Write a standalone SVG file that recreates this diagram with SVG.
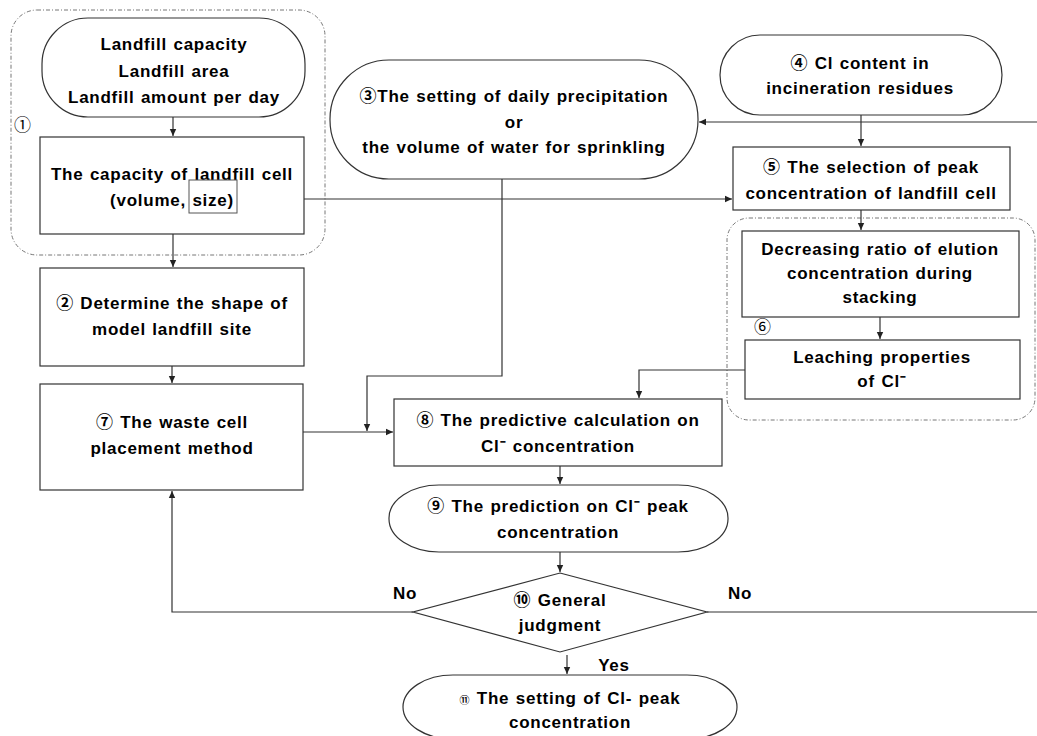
<svg xmlns="http://www.w3.org/2000/svg" width="1037" height="736" viewBox="0 0 1037 736">
<style>
.t{font-family:"Liberation Sans","Noto Sans CJK JP",sans-serif;font-weight:bold;font-size:17px;fill:#000;text-anchor:middle;letter-spacing:0.75px;word-spacing:1px}
.n{font-family:"Noto Sans CJK JP",sans-serif;font-size:17px;fill:#000}
.box{fill:#fff;stroke:#333;stroke-width:1.2}
.reg{fill:none;stroke:#777;stroke-width:1;stroke-dasharray:4 2 1 2}
.ln{fill:none;stroke:#333;stroke-width:1.2}
</style>
<defs>
<marker id="ah" markerWidth="8" markerHeight="8" refX="7" refY="4" orient="auto" markerUnits="userSpaceOnUse">
<path d="M0,0.8 L7,4 L0,7.2 Z" fill="#222"/>
</marker>
</defs>
<rect width="1037" height="736" fill="#fff"/>

<g id="region1">
<rect class="reg" x="11" y="10" width="314" height="245" rx="26"/>
<text class="n" x="14" y="131">①</text>
</g>
<g id="region6">
<rect class="reg" x="727" y="218" width="308" height="202" rx="22"/>
<text class="n" x="754" y="333">⑥</text>
</g>

<g id="connectors">
<path class="ln" d="M173,117 V136" marker-end="url(#ah)"/>
<path class="ln" d="M173,234 V267" marker-end="url(#ah)"/>
<path class="ln" d="M172,366 V383" marker-end="url(#ah)"/>
<path class="ln" d="M303,432 H393" marker-end="url(#ah)"/>
<path class="ln" d="M502,179 V376 H367 V431" marker-end="url(#ah)"/>
<path class="ln" d="M237,199 H732" marker-end="url(#ah)"/>
<path class="ln" d="M1037,122 H699" marker-end="url(#ah)"/>
<path class="ln" d="M861,115 V146" marker-end="url(#ah)"/>
<path class="ln" d="M861,210 V230" marker-end="url(#ah)"/>
<path class="ln" d="M880,317 V339" marker-end="url(#ah)"/>
<path class="ln" d="M745,370 H639 V398" marker-end="url(#ah)"/>
<path class="ln" d="M560,466 V484" marker-end="url(#ah)"/>
<path class="ln" d="M560,552 V572" marker-end="url(#ah)"/>
<path class="ln" d="M413,612 H172 V491" marker-end="url(#ah)"/>
<path class="ln" d="M707,612 H1037"/>
<path class="ln" d="M567,655 V674" marker-end="url(#ah)"/>
<text class="t" x="405" y="599">No</text>
<text class="t" x="740" y="599">No</text>
<text class="t" x="614" y="671">Yes</text>
</g>

<g id="node-inputs">
<rect class="box" x="42" y="18" width="263" height="99" rx="46"/>
<text class="t" x="174" y="50">Landfill capacity</text>
<text class="t" x="174" y="77">Landfill area</text>
<text class="t" x="174" y="103">Landfill amount per day</text>
</g>

<g id="node-cell-capacity">
<rect class="box" x="40" y="137" width="264" height="97"/>
<text class="t" x="172" y="180">The capacity of landfill cell</text>
<text class="t" x="172" y="206">(volume, size)</text>
<rect x="189" y="180" width="48" height="33" fill="none" stroke="#555" stroke-width="1"/>
</g>

<g id="node-2">
<rect class="box" x="40" y="268" width="264" height="98"/>
<text class="t" x="172" y="309">② Determine the shape of</text>
<text class="t" x="172" y="335">model landfill site</text>
</g>

<g id="node-7">
<rect class="box" x="40" y="384" width="263" height="106"/>
<text class="t" x="172" y="428">⑦ The waste cell</text>
<text class="t" x="172" y="454">placement method</text>
</g>

<g id="node-3">
<rect class="box" x="330" y="60" width="368" height="119" rx="59"/>
<text class="t" x="514" y="102">③The setting of daily precipitation</text>
<text class="t" x="514" y="128">or</text>
<text class="t" x="514" y="153">the volume of water for sprinkling</text>
</g>

<g id="node-4">
<rect class="box" x="720" y="35" width="282" height="80" rx="40"/>
<text class="t" x="860" y="69">④ Cl content in</text>
<text class="t" x="860" y="94">incineration residues</text>
</g>

<g id="node-5">
<rect class="box" x="733" y="147" width="277" height="63"/>
<text class="t" x="871" y="173">⑤ The selection of peak</text>
<text class="t" x="871" y="199">concentration of landfill cell</text>
</g>

<g id="node-6a">
<rect class="box" x="742" y="231" width="277" height="86"/>
<text class="t" x="880" y="255">Decreasing ratio of elution</text>
<text class="t" x="880" y="279">concentration during</text>
<text class="t" x="880" y="303">stacking</text>
</g>

<g id="node-6b">
<rect class="box" x="745" y="340" width="275" height="59"/>
<text class="t" x="882" y="363">Leaching properties</text>
<text class="t" x="882" y="387">of Cl⁻</text>
</g>

<g id="node-8">
<rect class="box" x="394" y="399" width="328" height="67"/>
<text class="t" x="558" y="426">⑧ The predictive calculation on</text>
<text class="t" x="558" y="452">Cl⁻ concentration</text>
</g>

<g id="node-9">
<rect class="box" x="389" y="485" width="339" height="67" rx="50" ry="33"/>
<text class="t" x="558" y="512">⑨ The prediction on Cl⁻ peak</text>
<text class="t" x="558" y="538">concentration</text>
</g>

<g id="node-10">
<polygon class="box" points="560,573 707,612 560,652 413,612"/>
<text class="t" x="560" y="606">⑩ General</text>
<text class="t" x="560" y="631">judgment</text>
</g>

<g id="node-11">
<rect class="box" x="403" y="675" width="334" height="64" rx="50" ry="32"/>
<text class="t" x="570" y="704"><tspan font-size="10">⑪</tspan> The setting of Cl- peak</text>
<text class="t" x="570" y="728">concentration</text>
</g>
</svg>
